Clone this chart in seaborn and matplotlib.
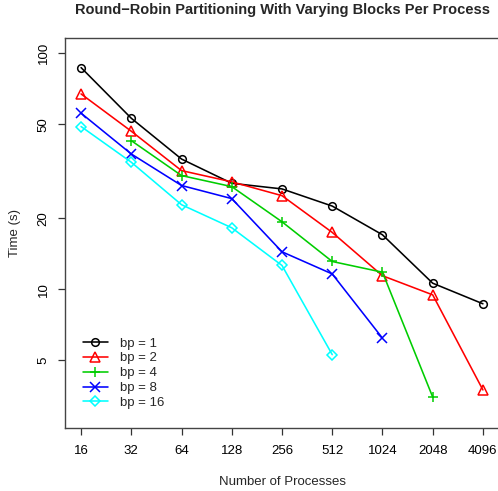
import numpy as np
import pandas as pd
import matplotlib
matplotlib.use("Agg")
import matplotlib.pyplot as plt
import seaborn as sns

sns.set_theme(style="white")
plt.rcParams['font.family'] = ['Liberation Sans', 'DejaVu Sans']

procs = [16, 32, 64, 128, 256, 512, 1024, 2048, 4096]
bp1 = [86.9, 53.0, 35.6, 28.1, 26.6, 22.5, 17.0, 10.6, 8.67]
bp2 = [67.2, 46.7, 31.8, 28.5, 24.9, 17.4, 11.4, 9.46, 3.74]
bp4 = [None, 42.6, 30.3, 27.2, 19.3, 13.1, 11.8, 3.49, None]
bp8 = [55.7, 37.4, 27.5, 24.2, 14.4, 11.6, 6.2, None, None]
bp16 = [48.9, 34.5, 22.8, 18.2, 12.6, 5.28, None, None, None]

labels = ["bp = 1", "bp = 2", "bp = 4", "bp = 8", "bp = 16"]
series = [bp1, bp2, bp4, bp8, bp16]
colors = ["black", "#FF0000", "#00CD00", "#0000FF", "#00FFFF"]
markers = ["o", "^", "+", "x", "D"]
msizes = [5.5, 6.5, 7.5, 6.5, 5]

yticks = [5, 10, 20, 50, 100]
xticklabels = [str(p) for p in procs]

fig = plt.figure(figsize=(4.98, 4.91), dpi=100)
ax = fig.add_axes([65/498, 1-428/491, (499-65)/498, (428-38)/491])

for lab, vals, c, m, ms in zip(labels, series, colors, markers, msizes):
    df = pd.DataFrame({"x": procs, "y": vals}).dropna()
    sns.lineplot(data=df, x="x", y="y", ax=ax, color=c, marker=m,
                 markerfacecolor="none", markeredgecolor=c, markeredgewidth=1.1,
                 markersize=ms, linewidth=1.15, label=lab)

ax.set_xscale("log", base=2)
ax.set_yscale("log")
ax.set_xlim(2**3.68, 2**12.32)
ax.set_ylim(2.58, 116)
ax.set_xticks(procs)
ax.set_xticklabels(xticklabels)
ax.set_yticks(yticks)
ax.set_yticklabels([str(v) for v in yticks], rotation=90, va="center")
ax.minorticks_off()
ax.tick_params(axis="both", direction="out", length=5, width=0.9, colors="#333333",
               labelcolor="black", labelsize=9.5, bottom=True, left=True)
ax.tick_params(axis="x", pad=7)
ax.tick_params(axis="y", pad=6)
for s in ax.spines.values():
    s.set_color("#444444")
    s.set_linewidth(1.0)

ax.set_xlabel("Number of Processes", fontsize=9.5, labelpad=14)
ax.set_ylabel("Time (s)", fontsize=9.5, labelpad=12)
ax.set_title("Round\u2212Robin Partitioning With Varying Blocks Per Process",
             fontsize=10.5, fontweight="bold", pad=17)

leg = ax.legend(loc="lower left", bbox_to_anchor=(0.02, 0.025), frameon=False,
                fontsize=9.5, handlelength=1.9, labelspacing=0.2, handletextpad=0.9,
                borderpad=0.2)

fig.savefig("out.png", dpi=100)
